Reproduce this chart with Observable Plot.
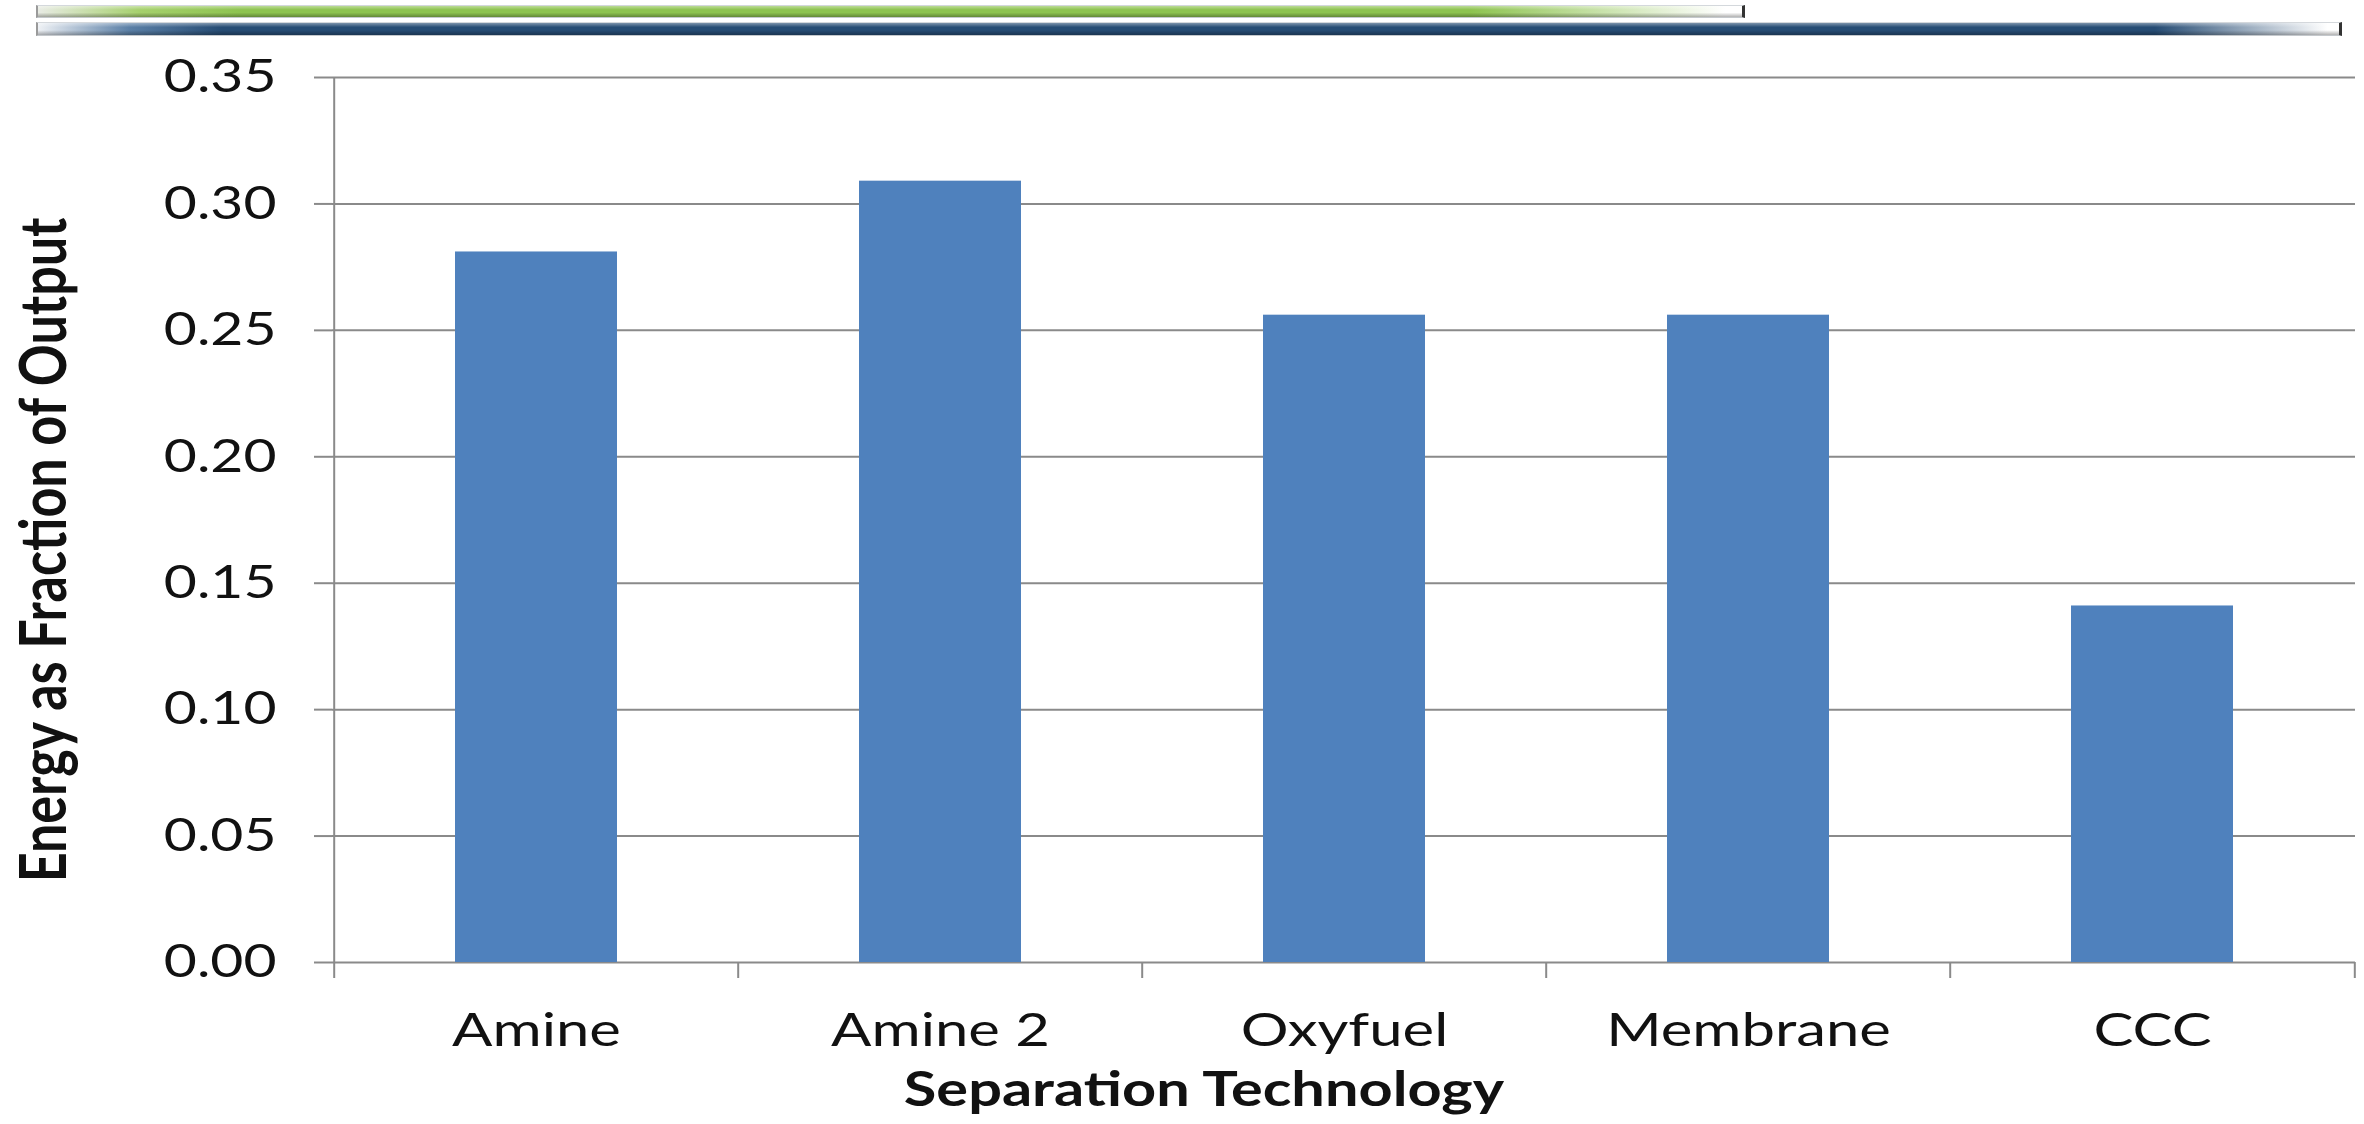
<!DOCTYPE html>
<html>
<head>
<meta charset="utf-8">
<script src="https://cdn.jsdelivr.net/npm/d3@7"></script>
<script src="https://cdn.jsdelivr.net/npm/@observablehq/plot@0.6"></script>
<style>
  html, body { margin: 0; padding: 0; background: #fff; }
  #wrap { position: relative; width: 2364px; height: 1124px; overflow: hidden; background: #fff; }
  #chart { position: absolute; left: 0; top: 0; }
  .band { position: absolute; box-sizing: border-box; border-top: 1px solid #d4d8dc; border-bottom: 1px solid #c4c8cc; }
  .band::after { content: ""; position: absolute; inset: 0;
    background: linear-gradient(to bottom, rgba(255,255,255,0.4) 0%, rgba(255,255,255,0) 35%, rgba(0,0,0,0) 60%, rgba(0,0,0,0.3) 100%); }
  .band.green { left: 36px; top: 5px; width: 1709px; height: 13px;
    background: linear-gradient(to right, #e8ebe4 0%, #a5d06c 6%, #8dc34f 12%, #8dc34f 84%, #ffffff 99%);
    border-left: 2px solid #9a9a9a; border-right: 3px solid #333; }
  .band.navy { left: 36px; top: 22px; width: 2306px; height: 14px;
    background: linear-gradient(to right, #eef1f5 0%, #5a7fa6 4%, #264c74 8%, #264c74 92%, #ffffff 99.5%);
    border-left: 2px solid #9a9a9a; border-right: 3px solid #333; }
</style>
</head>
<body>
<div id="wrap">
  <div id="chart"></div>
  <div class="band green"></div>
  <div class="band navy"></div>
</div>
<script>
// Energy penalty of each CO2 separation technology
const technologies = ["Amine", "Amine 2", "Oxyfuel", "Membrane", "CCC"];
const energyFraction = [0.281, 0.309, 0.256, 0.256, 0.141];
const yTicks = [0, 0.05, 0.10, 0.15, 0.20, 0.25, 0.30, 0.35];
const xTitle = "Separation Technology";
const yTitle = "Energy as Fraction of Output";

const rows = technologies.map((technology, i) => ({technology, value: energyFraction[i]}));

const W = 2364, H = 1124;
const mL = 332, mR = 9, mT = 77, mB = 162;
const step = (W - mL - mR) / technologies.length;
const lineGray = "#8a8a8a";
const ink = "#111";

const plot = Plot.plot({
  width: W,
  height: H,
  marginLeft: mL,
  marginRight: mR,
  marginTop: mT,
  marginBottom: mB,
  style: {fontFamily: "Lato, sans-serif", fontSize: "46px", color: ink, background: "#fff", overflow: "visible"},
  x: {domain: technologies, paddingInner: 0.6, paddingOuter: 0.3, label: null},
  y: {domain: [0, 0.35], label: null},
  marks: [
    Plot.gridY(yTicks, {stroke: lineGray, strokeOpacity: 1, strokeWidth: 2}),
    Plot.axisY(yTicks, {tickSize: 18, tickPadding: 38, tickFormat: d3.format(".2f"), stroke: lineGray, strokeWidth: 2, label: null}),
    // vertical axis line along the left edge of the first category slot
    Plot.ruleX(technologies.slice(0, 1), {x: d => d, dx: -step / 2, y1: 0, y2: 0.35, stroke: lineGray, strokeWidth: 2}),
    // category boundary ticks below the baseline
    Plot.axisX(technologies, {tickSize: 16, fill: "none", dx: -step / 2, stroke: lineGray, strokeWidth: 2, label: null}),
    Plot.axisX(technologies.slice(-1), {tickSize: 16, fill: "none", dx: step / 2, stroke: lineGray, strokeWidth: 2, label: null}),
    // category names
    Plot.axisX(technologies, {tickSize: 0, tickPadding: 51, label: null}),
    Plot.barY(rows, {x: "technology", y: "value", fill: "#4f81bd"}),
    Plot.text([yTitle], {text: d => d, frameAnchor: "left", textAnchor: "middle", lineAnchor: "middle", rotate: -90, dx: -287, dy: 30, fontWeight: "bold", fontSize: 52}),
    Plot.text([xTitle], {text: d => d, frameAnchor: "bottom", textAnchor: "middle", lineAnchor: "middle", dx: -140, dy: 128, fontWeight: "bold", fontSize: 48})
  ]
});

// the lettering is drawn wide: stretch every label horizontally about its anchor
const SX = 1.24;
const xLabelSX = 1.3;
plot.querySelectorAll("text").forEach(t => {
  let tr = t.getAttribute("transform");
  if (!tr) {
    const x = +(t.getAttribute("x") || 0), y = +(t.getAttribute("y") || 0);
    t.removeAttribute("x"); t.removeAttribute("y");
    tr = `translate(${x},${y})`;
  }
  const rotated = /rotate\(\s*-?90\s*\)/.test(tr);
  const inXAxis = !!t.closest('g[aria-label="x-axis tick label"]');
  const s = inXAxis ? xLabelSX : SX;
  t.setAttribute("transform", tr + (rotated ? ` scale(1,${SX})` : ` scale(${s},1)`));
});

document.getElementById("chart").appendChild(plot);
</script>
</body>
</html>
